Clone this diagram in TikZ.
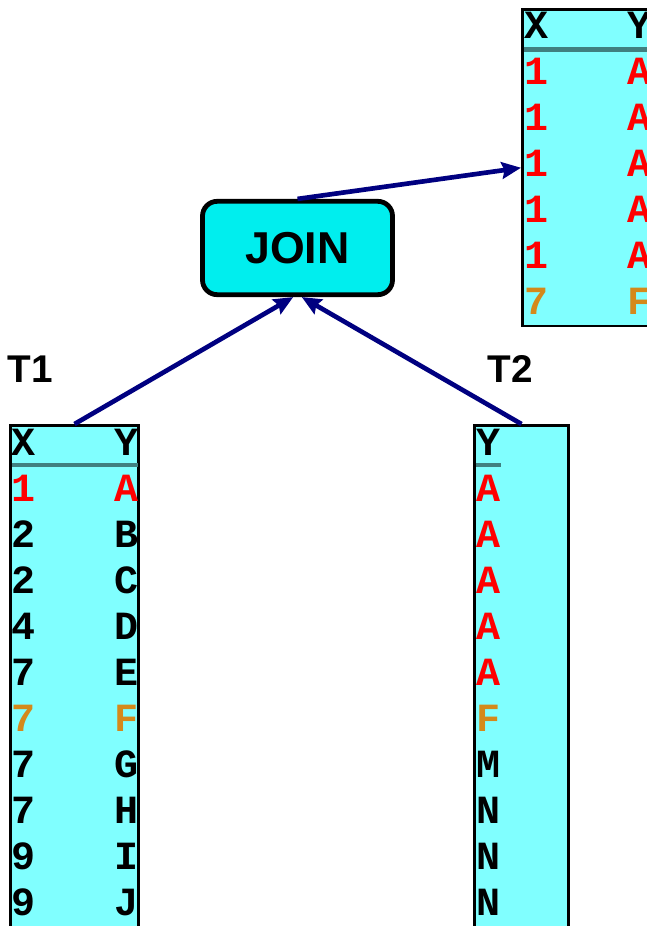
\documentclass[tikz,border=0pt]{standalone}
\usepackage{fontspec}
\setsansfont{Liberation Sans}
\setmonofont{Liberation Mono}
\usetikzlibrary{arrows.meta,fit}

\definecolor{tabfill}{RGB}{128,255,255}
\definecolor{joinfill}{RGB}{0,238,238}
\definecolor{sepcol}{RGB}{64,128,128}
\definecolor{navy}{RGB}{0,0,128}
\definecolor{ochre}{RGB}{212,137,26}

\tikzset{
 tablebox/.style={draw=black, line width=2.2pt, fill=tabfill, inner sep=0pt},
 cell/.style={anchor=base, inner sep=0pt, font=\ttfamily\bfseries\fontsize{30}{36}\selectfont},
 hline/.style={sepcol, line width=3.4pt},
 joinbox/.style={draw=black, line width=3.6pt, fill=joinfill, rounded corners=11pt,
   minimum width=142.5pt, minimum height=70pt, inner sep=0pt,
   font=\sffamily\bfseries\fontsize{33.5}{40}\selectfont},
 lbl/.style={inner sep=0pt, font=\sffamily\bfseries\fontsize{29}{34}\selectfont},
 flow/.style={-{Stealth[length=14.5pt,width=12.5pt,inset=2pt]}, line width=3.5pt, navy}
}

\begin{document}
\begin{tikzpicture}[x=0.75pt,y=-0.75pt]
\useasboundingbox (0,0) rectangle (647,926);
\clip (0,0) rectangle (647,926);

% the three tables
\node[tablebox, fit={(10.5,425.5) (138.5,960)}] (t1) {};
\node[tablebox, fit={(474.5,425.5) (568.5,960)}] (t2) {};
\node[tablebox, fit={(522.5,9.5) (680,326)}] (res) {};

% T1
\node[cell] (t1hx) at (24,455) {X};
\node[cell] (t1hy) at (127,455) {Y};
\draw[hline] (11.5,465) -- (137.5,465);
\foreach \a/\b/\c [count=\i] in {1/A/red,2/B/black,2/C/black,4/D/black,7/E/black,
                                 7/F/ochre,7/G/black,7/H/black,9/I/black,9/J/black}
 {
 \node[cell,\c] (t1x\i) at (24,455+46*\i) {\a};
 \node[cell,\c] (t1y\i) at (127,455+46*\i) {\b};
 }

% T2
\node[cell] (t2hy) at (488,455) {Y};
\draw[hline] (475.5,465) -- (501,465);
\foreach \b/\c [count=\i] in {A/red,A/red,A/red,A/red,A/red,F/ochre,M/black,N/black,N/black,N/black}
 \node[cell,\c] (t2y\i) at (488,455+46*\i) {\b};

% result
\node[cell] (rhx) at (536,38) {X};
\node[cell] (rhy) at (639,38) {Y};
\draw[hline] (523.5,49.5) -- (647,49.5);
\foreach \a/\b/\c [count=\i] in {1/A/red,1/A/red,1/A/red,1/A/red,1/A/red,7/F/ochre}
 {
 \node[cell,\c] (rx\i) at (536,38+46*\i) {\a};
 \node[cell,\c] (ry\i) at (639,38+46*\i) {\b};
 }

% operator and labels
\node[joinbox] (join) at (297.5,248) {JOIN};
\node[lbl] (t1lbl) at (30,369) {T1};
\node[lbl] (t2lbl) at (510,369) {T2};

\draw[flow] (t1.north) -- (join.265);
\draw[flow] (t2.north) -- (join.275);
\draw[flow] (join.north) -- (res.west);
\end{tikzpicture}
\end{document}
